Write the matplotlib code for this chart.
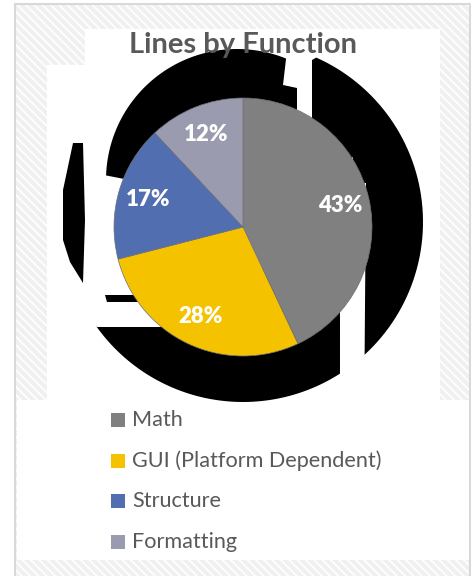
import matplotlib
matplotlib.use('Agg')
import numpy as np
import matplotlib.pyplot as plt
from matplotlib.patches import Rectangle, Polygon

plt.rcParams['font.family'] = ['Lato', 'DejaVu Sans']
plt.rcParams['hatch.linewidth'] = 3

W, H = 471, 576

categories = ['Math', 'GUI (Platform Dependent)', 'Structure', 'Formatting']
shares = [43, 28, 17, 12]
colors = ['#808080', '#F5C200', '#516EB1', '#9A9BAE']
title = 'Lines by Function'


def arc(cx, cy, r, a0, a1, n=60):
    # pixel coords, y down, angles in degrees counterclockwise from +x
    a = np.radians(np.linspace(a0, a1, n))
    return list(zip(cx + r * np.cos(a), cy - r * np.sin(a)))


# broken shadow blob seen behind the pie (pixel coords, y down)
shadow_shapes = [
    arc(237, 180, 131, 178, 68) + [(283, 85), (297, 88), (297, 140), (180, 190)],
    [(312, 60)] + arc(243, 222, 180, 66, -47.5)
    + [(366, 183), (353, 183), (353, 157), (300, 200), (312, 118)],
    [(96, 327), (165, 327), (243, 260), (330, 300), (340, 312)]
    + arc(243, 222, 180, -57.4, -144.5),
    [(73, 143), (83, 143), (85, 220), (83, 283), (70, 262), (63, 240), (63, 190)],
    [(105, 295), (140, 295), (140, 302), (107, 302)],
]


def fy(y):
    return H - y


def box(x0, y0, x1, y1, **kw):
    return Rectangle((x0, fy(y1)), x1 - x0, y1 - y0, **kw)


fig = plt.figure(figsize=(W / 100, H / 100), dpi=100)
ax = fig.add_axes([0, 0, 1, 1])

# hatched chart background and white panels
ax.add_patch(box(15, 4, 470, 580, facecolor='white', edgecolor='#f0f0f0', hatch='\\\\\\\\', lw=0))
ax.add_patch(box(15, 4, 470, 580, fill=False, edgecolor='#d9d9d9', lw=1.5))
ax.add_patch(box(85, 29, 440, 66, facecolor='white', lw=0))
ax.add_patch(box(47, 65, 440, 401, facecolor='white', lw=0))
ax.add_patch(box(16.5, 400, 469, 560, facecolor='white', lw=0))

for pts in shadow_shapes:
    ax.add_patch(Polygon([(x, fy(y)) for x, y in pts], closed=True, facecolor='black', lw=0))

wedges, texts, autotexts = ax.pie(
    shares, colors=colors, startangle=90, counterclock=False,
    center=(243, fy(227)), radius=129,
    autopct='%d%%', pctdistance=0.77,
    wedgeprops=dict(linewidth=0.5, edgecolor='#6f6f7a'),
    textprops=dict(color='white', fontsize=16, fontweight='heavy'))

ax.text(243, fy(45), title, ha='center', va='center', fontsize=21,
        fontweight='bold', color='#595959')

# legend
for i, (lab, col) in enumerate(zip(categories, colors)):
    y = 420 + i * 40.5
    ax.add_patch(box(111, y - 7, 125, y + 7, facecolor=col, lw=0))
    ax.text(132, fy(y), lab, ha='left', va='center', fontsize=15.6, color='#595959')

ax.set_xlim(0, W)
ax.set_ylim(0, H)
ax.set_aspect('auto')
ax.axis('off')

fig.savefig('out.png', dpi=100)
